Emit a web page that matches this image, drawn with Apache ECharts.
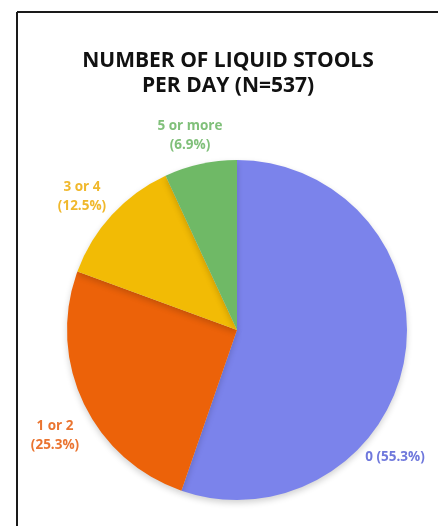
<!DOCTYPE html>
<html>
<head>
<meta charset="utf-8">
<style>
  html, body { margin: 0; padding: 0; background: #ffffff; }
  #chart { width: 438px; height: 526px; }
</style>
<script src="https://cdn.jsdelivr.net/npm/echarts@6/dist/echarts.min.js"></script>
</head>
<body>
<div id="chart"></div>
<script>
// Number of liquid stools per day, share of patients (N=537)
const categories = ['0', '1 or 2', '3 or 4', '5 or more'];
const percentages = [55.3, 25.3, 12.5, 6.9];

const sliceColors = ['#7b83eb', '#ec6209', '#f2bb05', '#6fb966'];
const labelColors = ['#6f78dc', '#ea7430', '#f0b82c', '#80c07a'];
// label anchor points (centre of each label block) in pixels
const labelSpots = [[395, 457], [55, 436], [82, 197], [190, 136]];

const chart = echarts.init(document.getElementById('chart'), null, { renderer: 'canvas' });

chart.setOption({
  backgroundColor: '#ffffff',
  animation: false,
  title: {
    text: 'NUMBER OF LIQUID STOOLS\nPER DAY (N=537)',
    left: 223,
    top: 44,
    textAlign: 'center',
    textStyle: {
      fontFamily: 'Open Sans',
      fontWeight: 'bold',
      fontSize: 21,
      lineHeight: 25,
      color: '#111111'
    }
  },
  graphic: [
    { type: 'line', shape: { x1: 17, y1: 12, x2: 438, y2: 12 }, style: { stroke: '#1a1a1a', lineWidth: 2 } },
    { type: 'line', shape: { x1: 17, y1: 12, x2: 17, y2: 526 }, style: { stroke: '#1a1a1a', lineWidth: 2 } }
  ],
  series: [{
    type: 'pie',
    center: [237, 330],
    radius: 170,
    startAngle: 90,
    clockwise: true,
    avoidLabelOverlap: false,
    itemStyle: {
      shadowBlur: 6,
      shadowOffsetY: 3,
      shadowColor: 'rgba(0,0,0,0.18)'
    },
    label: {
      show: true,
      position: 'outside',
      fontFamily: 'Open Sans',
      fontWeight: 'bold',
      fontSize: 13.5,
      lineHeight: 19,
      align: 'center'
    },
    labelLine: { show: false },
    labelLayout: function (params) {
      const p = labelSpots[params.dataIndex];
      return { x: p[0], y: p[1], align: 'center', verticalAlign: 'middle' };
    },
    data: categories.map((c, i) => ({
      name: c,
      value: percentages[i],
      itemStyle: { color: sliceColors[i] },
      label: {
        color: labelColors[i],
        formatter: i === 0
          ? c + ' (' + percentages[i].toFixed(1) + '%)'
          : c + '\n(' + percentages[i].toFixed(1) + '%)'
      }
    }))
  }]
});
</script>
</body>
</html>
